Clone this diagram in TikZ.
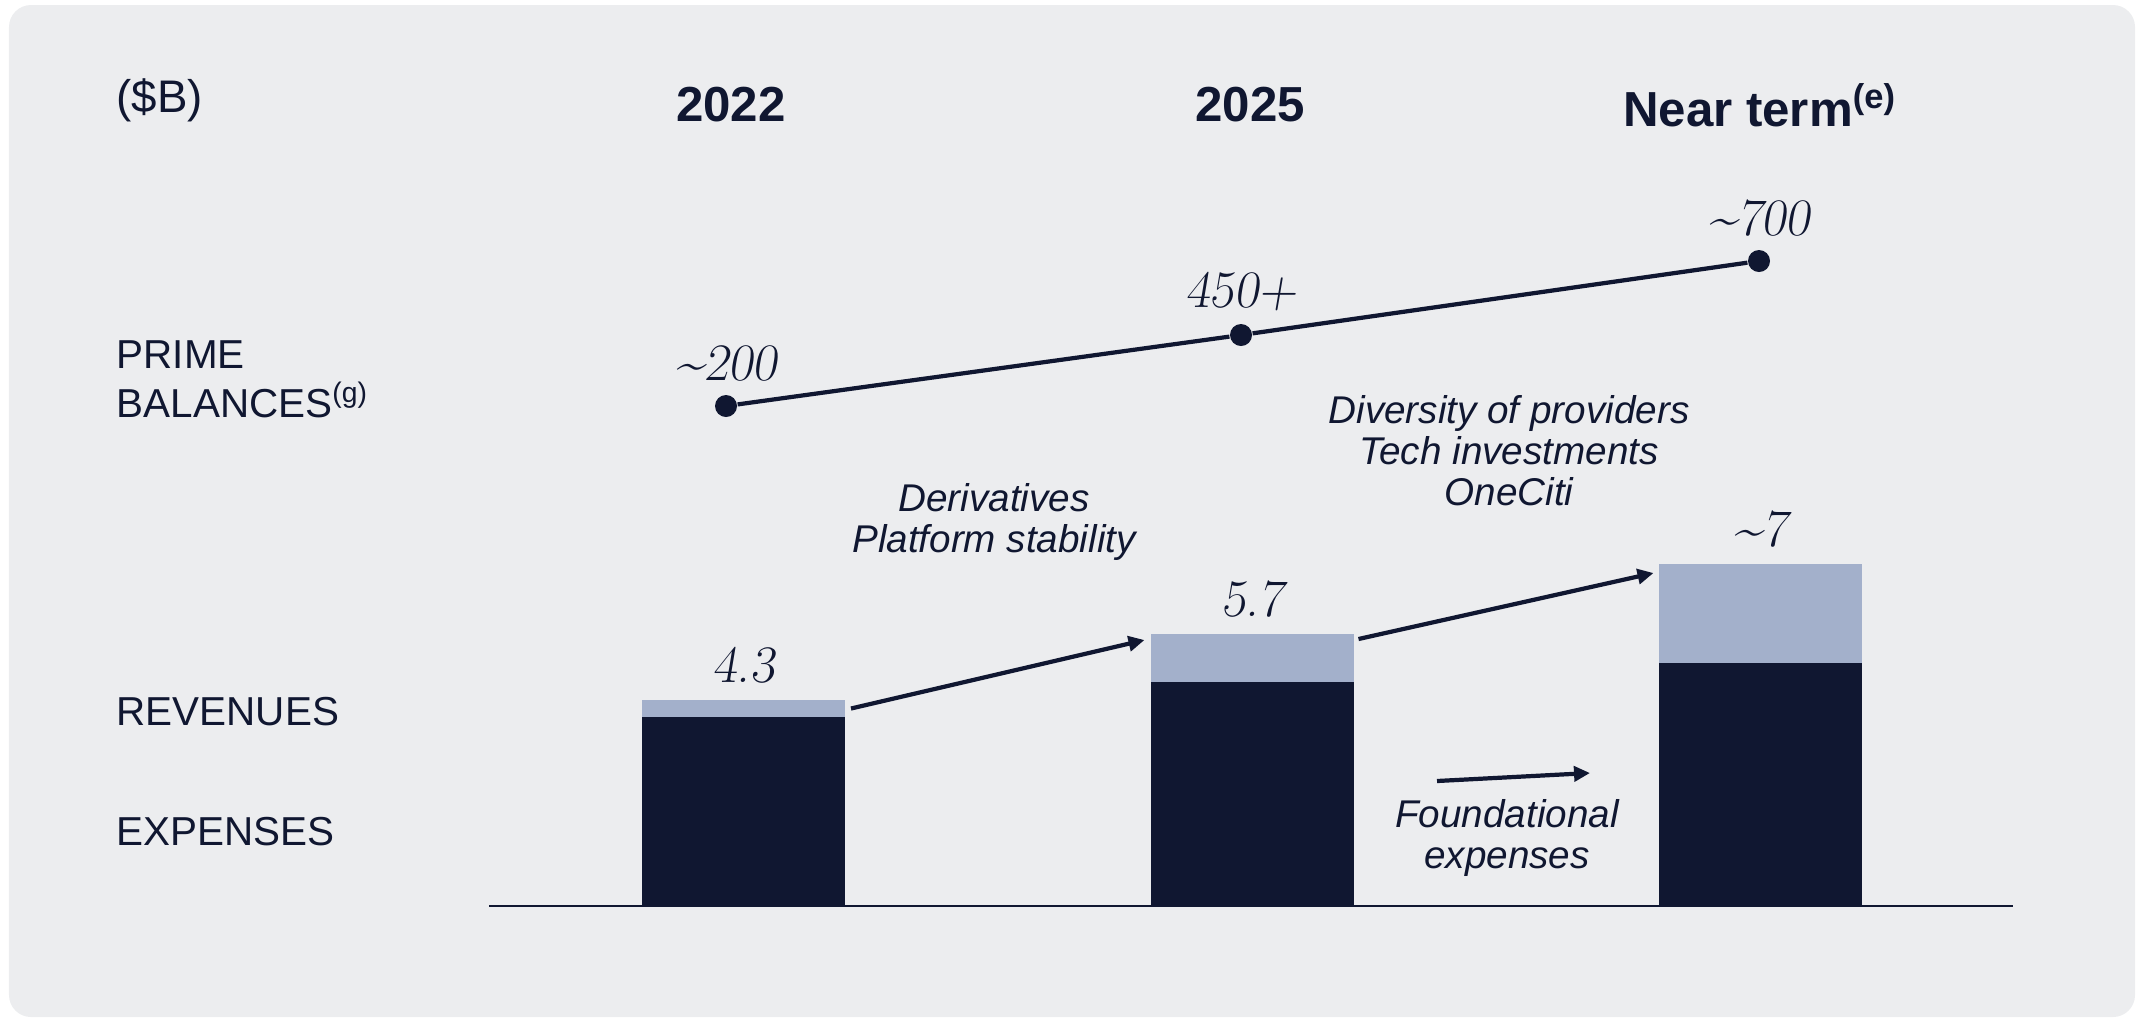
\documentclass[tikz,border=0pt]{standalone}
\usepackage{fontspec}
\setsansfont{Liberation Sans}
\usetikzlibrary{
  positioning,
  calc,
  arrows.meta}
\definecolor{panelcolor}{RGB}{236,237,239}
\definecolor{navycolor}{RGB}{16,23,49}
\definecolor{revcolor}{RGB}{163,176,203}
\tikzset{
  %% rowlabel : the labels at the left of each row
  rowlabel/.style={
    anchor=west,
    inner sep=0pt,
    align=left,
    text=navycolor,
    font=\sffamily\fontsize{11.5}{14}\selectfont
  },
  %% yearlabel : column headings
  yearlabel/.style={
    inner sep=0pt,
    text=navycolor,
    font=\sffamily\bfseries\fontsize{14}{16}\selectfont
  },
  %% valuelabel : a figure above a bar or a point
  valuelabel/.style={
    inner sep=0pt,
    text=navycolor,
    font=\rmfamily\slshape\fontsize{15}{17}\selectfont
  },
  %% driver : italic comments between the columns
  driver/.style={
    align=center,
    inner sep=0pt,
    text=navycolor,
    font=\sffamily\itshape\fontsize{11}{11.7}\selectfont
  },
  %% expbar : expenses part of a bar
  expbar/.style={
    rectangle,
    fill=navycolor,
    minimum width=2.03cm,
    inner sep=0pt,
    outer sep=0pt,
    anchor=south
  },
  %% revbar : revenues on top of the expenses
  revbar/.style={
    rectangle,
    fill=revcolor,
    minimum width=2.03cm,
    inner sep=0pt,
    outer sep=0pt
  },
  %% balpoint : a point of the prime balances line
  balpoint/.style={
    circle,
    fill=navycolor,
    minimum size=0.22cm,
    inner sep=0pt
  },
  %% growth : arrows between the bars
  growth/.style={navycolor, line width=1.2pt,
    -{Triangle[length=0.16cm, width=0.15cm]}}
}
\begin{document}
\begin{tikzpicture}
  [x=1cm,
  y=-1cm]

  \useasboundingbox (0,0) rectangle (21.43,10.18);
  \fill [panelcolor, rounded corners=0.22cm] (0.09,0.05) rectangle (21.35,10.17);

  %% Row labels
  \node (unit) [rowlabel, font=\sffamily\fontsize{13}{15}\selectfont] at (1.16,1.00) {(\$B)};
  \node (prime) [rowlabel] at (1.16,3.79) {PRIME\\BALANCES\textsuperscript{(g)}};
  \node (revenues) [rowlabel] at (1.16,7.12) {REVENUES};
  \node (expenses) [rowlabel] at (1.16,8.32) {EXPENSES};

  %% Column headings
  \node (y2022) [yearlabel] at (7.31,1.05) {2022};
  \node (y2025) [yearlabel] at (12.50,1.05) {2025};
  \node (ynear) [yearlabel] at (17.60,1.05) {Near term\textsuperscript{(e)}};

  %% Prime balances
  \node (p1) [balpoint] at (7.26,4.06) {};
  \node (p2) [balpoint] at (12.41,3.35) {};
  \node (p3) [balpoint] at (17.59,2.61) {};
  \draw [navycolor, line width=1.2pt] (p1) -- (p2) -- (p3);
  \node (v1) [valuelabel, above=0.12cm of p1] {\textasciitilde200};
  \node (v2) [valuelabel, above=0.12cm of p2] {450+};
  \node (v3) [valuelabel, above=0.12cm of p3] {\textasciitilde700};

  %% Bars
  \node (exp1) [expbar, minimum height=1.89cm] at (7.435,9.06) {};
  \node (rev1) [revbar, minimum height=0.17cm, above=0cm of exp1] {};
  \node (exp2) [expbar, minimum height=2.24cm] at (12.52,9.06) {};
  \node (rev2) [revbar, minimum height=0.48cm, above=0cm of exp2] {};
  \node (exp3) [expbar, minimum height=2.43cm] at (17.60,9.06) {};
  \node (rev3) [revbar, minimum height=0.99cm, above=0cm of exp3] {};

  \node (t1) [valuelabel, above=0.16cm of rev1] {4.3};
  \node (t2) [valuelabel, above=0.16cm of rev2] {5.7};
  \node (t3) [valuelabel, above=0.16cm of rev3] {\textasciitilde7};

  %% Axis
  \coordinate (axis-l) at (4.89,9.06);
  \coordinate (axis-r) at (20.13,9.06);
  \draw [navycolor, line width=0.6pt] (axis-l) -- (axis-r);

  %% Drivers
  \node (drv1) [driver] at (9.94,5.22) {Derivatives\\Platform stability};
  \node (drv2) [driver] at (15.09,4.51) {Diversity of providers\\Tech investments\\OneCiti};
  \node (found) [driver] at (15.07,8.38) {Foundational\\expenses};

  %% Connections
  \draw [growth] ([xshift=0.06cm]rev1.east)
    -- ([xshift=-0.06cm, yshift=-0.06cm]rev2.north west);
  \draw [growth] ([xshift=0.05cm, yshift=-0.05cm]rev2.north east)
    -- ([xshift=-0.05cm, yshift=-0.09cm]rev3.north west);
  \coordinate (fa) at (14.37,7.81);
  \coordinate (fb) at (15.90,7.73);
  \draw [growth] (fa) -- (fb);

\end{tikzpicture}
\end{document}
